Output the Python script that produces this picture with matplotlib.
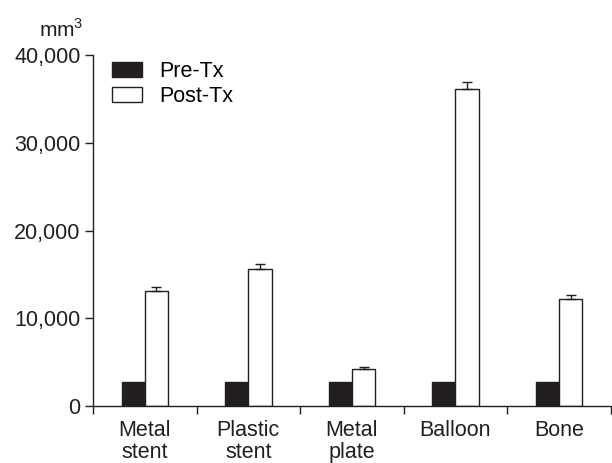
import matplotlib.pyplot as plt
import numpy as np

plt.rcParams['font.family'] = ['Liberation Sans', 'DejaVu Sans']
plt.rcParams['mathtext.fontset'] = 'custom'
plt.rcParams['mathtext.rm'] = 'Liberation Sans'

categories = ['Metal\nstent', 'Plastic\nstent', 'Metal\nplate', 'Balloon', 'Bone']
pre_tx = [2700, 2700, 2700, 2700, 2700]
post_tx = [13150, 15580, 4180, 36160, 12160]
post_err = [450, 600, 220, 720, 450]
y_ticks = [0, 10000, 20000, 30000, 40000]
y_labels = ['0', '10,000', '20,000', '30,000', '40,000']

fig = plt.figure(figsize=(6.12, 4.63), dpi=100)
ax = fig.add_axes([0.152, 0.123, 0.846, 0.758])

x = np.arange(len(categories))
w = 0.225
ax.bar(x - w / 2, pre_tx, w, color='#231f20', edgecolor='#231f20', linewidth=1, label='Pre-Tx')
ax.bar(x + w / 2, post_tx, w, color='white', edgecolor='#231f20', linewidth=1, label='Post-Tx')
ax.errorbar(x + w / 2, post_tx, yerr=[np.zeros(len(post_err)), post_err], fmt='none',
            ecolor='#231f20', elinewidth=1, capsize=3.3, capthick=1)

ax.set_xlim(-0.5, len(categories) - 0.5)
ax.set_ylim(0, 40000)
ax.set_yticks(y_ticks)
ax.set_yticklabels(y_labels, fontsize=15.5, color='#231f20')
ax.set_xticks(np.arange(len(categories) + 1) - 0.5)
ax.set_xticklabels([])
ax.set_xticks(x, minor=True)
ax.set_xticklabels(categories, minor=True, fontsize=15.5, color='#231f20', linespacing=1.08)
ax.tick_params(axis='x', which='minor', length=0, pad=10)
ax.tick_params(axis='x', which='major', direction='out', length=6, width=1, color='#231f20')
ax.tick_params(axis='y', direction='out', length=6, width=1, color='#231f20', pad=3)

for s in ['top', 'right']:
    ax.spines[s].set_visible(False)
for s in ['left', 'bottom']:
    ax.spines[s].set_color('#231f20')
    ax.spines[s].set_linewidth(1)

ax.text(-0.061, 1.051, 'mm$^\\mathrm{3}$', transform=ax.transAxes, fontsize=15, ha='center',
        va='baseline', color='#231f20')

ax.legend(loc='upper left', bbox_to_anchor=(0.02, 1.008), frameon=False, fontsize=15.5,
          handlelength=1.4, handleheight=0.7, labelspacing=0.2, handletextpad=0.8,
          borderaxespad=0)

fig.savefig('out.png', dpi=100)
